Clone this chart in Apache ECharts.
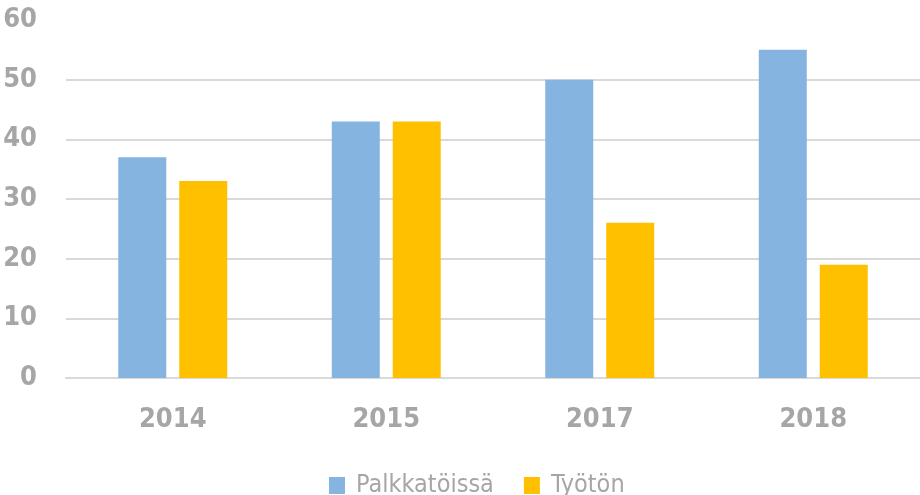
<!DOCTYPE html>
<html>
<head>
    <meta charset="UTF-8">
    <title></title>
    <script src="https://cdn.jsdelivr.net/npm/echarts@6/dist/echarts.min.js"></script>
    <style>
        body { margin: 0; background: #fff; }
        #chart { width: 920px; height: 495px; }
    </style>
</head>
<body>
<div id="chart"></div>
<script>
var years = ['2014', '2015', '2017', '2018'];
var palkkatoissa = [37, 43, 50, 55];
var tyoton = [33, 43, 26, 19];
var yTicks = [0, 10, 20, 30, 40, 50, 60];

var labelFont = '"DejaVu Sans Condensed", "Liberation Sans", sans-serif';
var gray = '#a6a6a6';

var myChart = echarts.init(document.getElementById('chart'));

var option = {
    animation: false,
    legend: {
        data: ['Palkkatöissä', 'Työtön'],
        left: 324,
        top: 468,
        itemWidth: 16,
        itemHeight: 17,
        itemGap: 30,
        icon: 'rect',
        textStyle: {
            color: gray,
            fontSize: 25,
            fontFamily: labelFont,
            padding: [0, 0, 0, 6]
        }
    },
    grid: {
        left: 66,
        right: 0,
        top: 20,
        bottom: 117
    },
    xAxis: {
        type: 'category',
        data: years,
        axisTick: { show: false },
        axisLine: { lineStyle: { color: '#d9d9d9', width: 2 } },
        axisLabel: {
            color: gray,
            fontSize: 27,
            fontWeight: 'bold',
            fontFamily: labelFont,
            margin: 28
        }
    },
    yAxis: {
        type: 'value',
        min: yTicks[0],
        max: yTicks[yTicks.length - 1],
        interval: 10,
        axisLine: { show: false },
        axisTick: { show: false },
        axisLabel: {
            color: gray,
            fontSize: 27,
            fontWeight: 'bold',
            fontFamily: labelFont,
            margin: 29
        },
        splitLine: {
            lineStyle: {
                color: ['#d9d9d9', '#d9d9d9', '#d9d9d9', '#d9d9d9', '#d9d9d9', '#d9d9d9', 'rgba(0,0,0,0)'],
                width: 2
            }
        }
    },
    series: [
        {
            name: 'Palkkatöissä',
            type: 'bar',
            data: palkkatoissa,
            barWidth: 48,
            barGap: '27%',
            itemStyle: { color: '#85b4e0' }
        },
        {
            name: 'Työtön',
            type: 'bar',
            data: tyoton,
            barWidth: 48,
            barGap: '27%',
            itemStyle: { color: '#ffc000' }
        }
    ]
};
myChart.setOption(option);
</script>
</body>
</html>
